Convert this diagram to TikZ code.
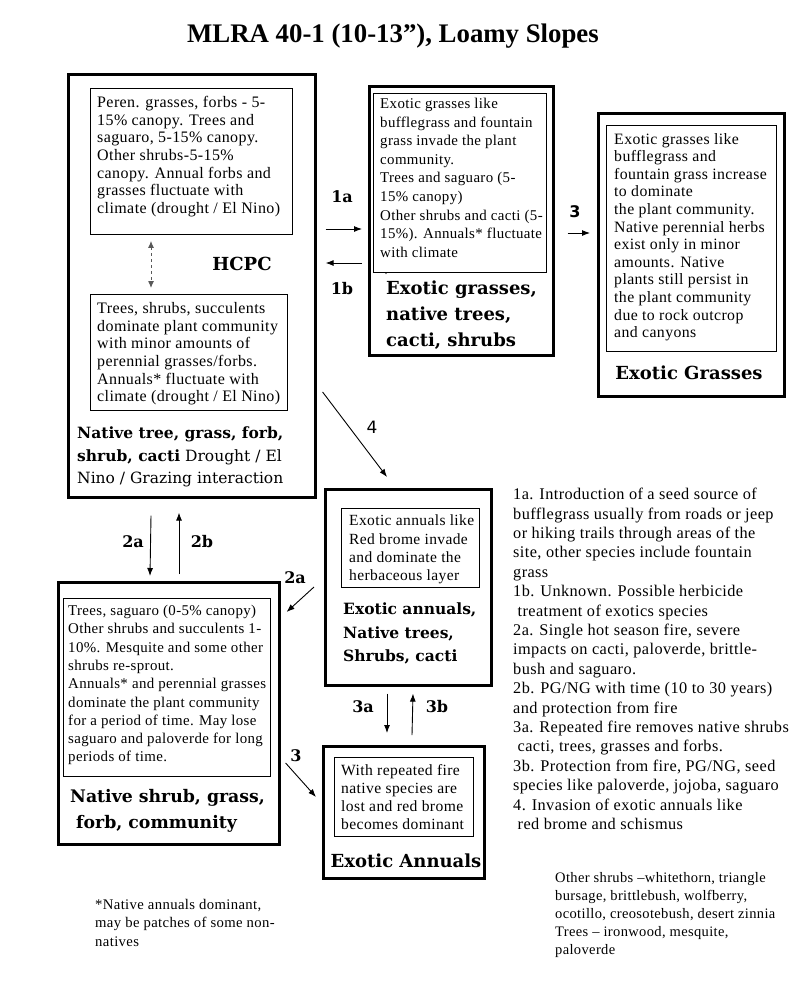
\documentclass[tikz,border=0pt]{standalone}
\usepackage{fontspec}
\setmainfont{Liberation Serif}[LetterSpace=2.5]
\newfontfamily\titlefont{Liberation Serif}
\newfontfamily\labfont{DejaVu Serif}
\newfontfamily\numfont{DejaVu Sans}
\usetikzlibrary{arrows.meta}
\begin{document}
\begin{tikzpicture}[x=1pt,y=-1pt,
  outerbox/.style={draw, line width=2.6pt, anchor=north west, inner sep=0pt},
  innerbox/.style={draw, line width=0.9pt, anchor=north west, inner sep=0pt},
  boxtext/.style={anchor=north west, inner sep=0pt, align=left, font=\fontsize{16}{17.7}\selectfont},
  statelabel/.style={anchor=north west, inner sep=0pt, align=left, font=\labfont\bfseries\fontsize{18}{26}\selectfont},
  smalllabel/.style={anchor=north west, inner sep=0pt, align=left, font=\labfont\bfseries\fontsize{15.5}{23.5}\selectfont},
  arr/.style={-{Latex[length=8pt,width=6pt]}, line width=0.9pt},
  arrlabel/.style={inner sep=0pt, font=\labfont\bfseries\fontsize{16}{16}\selectfont},
  numlabel/.style={inner sep=0pt, font=\numfont\fontsize{17}{17}\selectfont},
  notetext/.style={anchor=north west, inner sep=0pt, align=left}
]
\useasboundingbox (0,0) rectangle (800,985);
\fill[white] (0,0) rectangle (800,985);

% title
\node[inner sep=0pt, font=\titlefont\bfseries\fontsize{26.8}{30}\selectfont] (title) at (393,36) {MLRA 40-1 (10-13”), Loamy Slopes};

% HCPC state
\node[outerbox, minimum width=247pt, minimum height=423pt] (hcpc) at (67,73) {};
\node[innerbox, minimum width=202pt, minimum height=146pt] (ia) at (90,88) {};
\node[boxtext] (ta) at (97,96) {Peren. grasses, forbs - 5-\\15\%  canopy. Trees and\\saguaro, 5-15\% canopy.\\Other shrubs-5-15\%\\canopy. Annual forbs and\\grasses fluctuate with\\climate (drought / El Nino)};
\node[innerbox, minimum width=197pt, minimum height=116pt] (ib) at (90,294) {};
\node[boxtext] (tb) at (97,302) {Trees, shrubs, succulents\\dominate plant community\\with minor amounts of\\perennial grasses/forbs.\\Annuals* fluctuate with\\climate (drought / El Nino)};
\node[inner sep=0pt, font=\labfont\bfseries\fontsize{18}{20}\selectfont] (hcpclab) at (242,264) {HCPC};
\node[anchor=north west, inner sep=0pt, align=left, font=\labfont\fontsize{15.5}{22.5}\selectfont] (hcpcname) at (77,427) {\textbf{Native tree, grass, forb,}\\\textbf{shrub, cacti} Drought / El\\Nino / Grazing interaction};
\draw[{Latex[length=7pt,width=6pt]}-{Latex[length=7pt,width=6pt]}, dashed, line width=1pt, draw=black!65] ([shift={(61,6)}]ia.south west) -- ([shift={(61,-6)}]ib.north west);

% Exotic grasses, native trees
\node[outerbox, minimum width=184pt, minimum height=269pt] (eg) at (368,85) {};
\node[innerbox, minimum width=173pt, minimum height=179pt] (ic) at (373,93) {};
\node[boxtext, font=\fontsize{14.9}{18.6}\selectfont] (tc) at (380,98) {Exotic grasses like\\bufflegrass and fountain\\grass invade the plant\\community.\\Trees and saguaro (5-\\15\% canopy)\\Other shrubs and cacti (5-\\15\%). Annuals* fluctuate\\with climate};
\node[inner sep=0pt, font=\fontsize{10}{10}\selectfont] (dot) at (386,274) {.};
\node[statelabel] (egname) at (386,281) {Exotic grasses,\\native trees,\\cacti, shrubs};

% Exotic Grasses
\node[outerbox, minimum width=186pt, minimum height=283pt] (exg) at (597,112) {};
\node[innerbox, minimum width=170pt, minimum height=226pt] (id) at (606,125) {};
\node[boxtext, font=\fontsize{15.8}{17.6}\selectfont] (td) at (614,133) {Exotic grasses like\\bufflegrass and\\fountain grass increase\\to dominate\\the plant community.\\Native perennial herbs\\exist only in minor\\amounts. Native\\plants still persist in\\the plant community\\due to rock outcrop\\and canyons};
\node[inner sep=0pt, font=\labfont\bfseries\fontsize{18}{20}\selectfont] (exgname) at (689,373) {Exotic Grasses};

% Exotic annuals, native trees
\node[outerbox, minimum width=166pt, minimum height=196pt] (ea) at (324,488) {};
\node[innerbox, minimum width=138pt, minimum height=79pt] (ie) at (341,508) {};
\node[boxtext, font=\fontsize{15.5}{18.3}\selectfont] (te) at (349,515) {Exotic annuals like\\Red brome invade\\and dominate the\\herbaceous layer};
\node[smalllabel] (eaname) at (343,603) {Exotic annuals,\\Native trees,\\Shrubs, cacti};

% Exotic Annuals
\node[outerbox, minimum width=161pt, minimum height=132pt] (exa) at (322,745) {};
\node[innerbox, minimum width=139pt, minimum height=79pt] (iff) at (334,757) {};
\node[boxtext, font=\fontsize{15.6}{18.2}\selectfont] (tf) at (341,764) {With repeated fire\\native species are\\lost and red brome\\becomes dominant};
\node[inner sep=0pt, font=\labfont\bfseries\fontsize{18}{20}\selectfont] (exaname) at (406,861) {Exotic Annuals};

% Native shrub, grass, forb community
\node[outerbox, minimum width=221pt, minimum height=262pt] (ns) at (57,581) {};
\node[innerbox, minimum width=207pt, minimum height=178pt] (ig) at (63,598) {};
\node[boxtext, font=\fontsize{14.9}{18.3}\selectfont] (tg) at (68,605) {Trees, saguaro (0-5\% canopy)\\Other shrubs and succulents 1-\\10\%. Mesquite and some other\\shrubs re-sprout.\\Annuals* and perennial grasses\\dominate  the plant community\\for a period of time. May lose\\saguaro and paloverde for long\\periods of time.};
\node[statelabel, font=\labfont\bfseries\fontsize{17.3}{26}\selectfont] (nsname) at (70,789) {Native shrub, grass,\\\ forb, community};

% transitions
\draw[arr] ([shift={(9,156)}]hcpc.north east) -- ([shift={(-6,144)}]eg.north west);
\draw[arr] ([shift={(-6,178)}]eg.north west) -- ([shift={(9,190)}]hcpc.north east);
\node[arrlabel] (l1a) at (342,197) {1a};
\node[arrlabel] (l1b) at (342,289) {1b};
\draw[arr] ([shift={(13,148)}]eg.north east) -- ([shift={(-7,121)}]exg.north west);
\node[numlabel, font=\numfont\bfseries\fontsize{16}{16}\selectfont] (l3top) at (575,212) {3};
\draw[arr] ([shift={(6,319)}]hcpc.north east) -- ([shift={(63,-11)}]ea.north west);
\node[numlabel] (l4) at (372,427) {4};
\draw[arr] ([shift={(84,17)}]hcpc.south west) -- ([shift={(93,-5)}]ns.north west);
\draw[arr] ([shift={(122,-7)}]ns.north west) -- ([shift={(112,14)}]hcpc.south west);
\node[arrlabel] (l2a) at (133,542) {2a};
\node[arrlabel] (l2b) at (202,542) {2b};
\draw[arr] ([shift={(-10,99)}]ea.north west) -- ([shift={(6,31)}]ns.north east);
\node[arrlabel] (l2ad) at (295,578) {2a};
\draw[arr] ([shift={(5,182)}]ns.north east) -- ([shift={(-6,52)}]exa.north west);
\node[arrlabel] (l3d) at (296,756) {3};
\draw[arr] ([shift={(63,7)}]ea.south west) -- ([shift={(65,-12)}]exa.north west);
\draw[arr] ([shift={(90,-10)}]exa.north west) -- ([shift={(89,7)}]ea.south west);
\node[arrlabel] (l3a) at (363,707) {3a};
\node[arrlabel] (l3b) at (437,707) {3b};

% notes
\node[notetext, font=\fontsize{16.3}{19.4}\selectfont] (legend) at (513,488) {1a. Introduction of a seed source of\\bufflegrass usually from roads or jeep\\or hiking trails  through areas of  the\\site, other species include fountain\\grass\\1b. Unknown. Possible herbicide\\\ treatment of exotics species\\2a. Single hot season fire, severe\\impacts on cacti, paloverde, brittle-\\bush and saguaro.\\2b. PG/NG  with time (10 to 30 years)\\and protection from fire\\3a. Repeated fire removes native shrubs\\\ cacti, trees, grasses and forbs.\\3b. Protection from fire, PG/NG, seed\\species like paloverde, jojoba, saguaro\\4. Invasion of exotic annuals like\\\ red brome and schismus};
\node[notetext, font=\fontsize{14.5}{18}\selectfont] (shrubs) at (555,872) {Other shrubs –whitethorn, triangle\\bursage, brittlebush, wolfberry,\\ocotillo, creosotebush, desert  zinnia\\Trees – ironwood,  mesquite,\\paloverde};
\node[notetext, font=\fontsize{14.7}{18.5}\selectfont] (annuals) at (95,899) {*Native annuals dominant,\\may be patches of some non-\\natives};
\end{tikzpicture}
\end{document}
